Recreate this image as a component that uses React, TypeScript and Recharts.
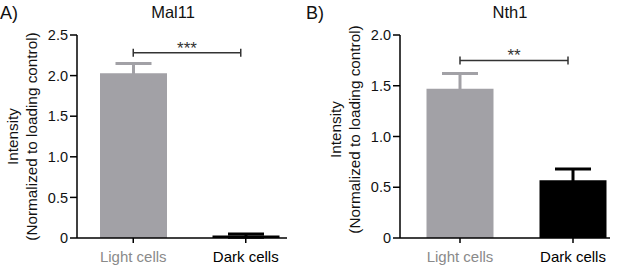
import { BarChart, Bar, XAxis, YAxis, Cell, ErrorBar, ReferenceLine } from "recharts";

const categories = ["Light cells", "Dark cells"];
const barColors = ["#a2a1a6", "#000000"];
const tickColors = ["#8a8a8a", "#000000"];

// Mal11 panel
const mal11Values = [2.03, 0.03];
const mal11Sem = [0.12, 0.02];
const mal11Ticks = [0, 0.5, 1, 1.5, 2, 2.5];
const mal11SigLevel = 2.28;

// Nth1 panel
const nth1Values = [1.47, 0.57];
const nth1Sem = [0.15, 0.11];
const nth1Ticks = [0, 0.5, 1, 1.5, 2];
const nth1SigLevel = 1.75;

const FONT = '"Liberation Sans", Arial, Helvetica, sans-serif';

function buildRows(values: number[], sem: number[]) {
  // the lower half of each error bar sits inside its own bar, same colour
  return categories.map((name, i) => ({
    name,
    value: values[i],
    errLight: i === 0 ? sem[i] : null,
    errDark: i === 1 ? sem[i] : null,
  }));
}

const CategoryTick = ({ x, y, payload }: any) => (
  <text
    x={x}
    y={y}
    dy="0.71em"
    textAnchor="middle"
    fontSize={15}
    fontFamily={FONT}
    fill={tickColors[categories.indexOf(payload.value)]}
  >
    {payload.value}
  </text>
);

const fmt = (v: number) => (v === 0 ? "0" : v.toFixed(1));

const ValueTick = ({ x, y, payload }: any) => (
  <text x={x} y={y} dy="0.36em" textAnchor="end" fontSize={14.5} fontFamily={FONT} fill="#111">
    {fmt(payload.value)}
  </text>
);

const YLabel = ({ viewBox, dy }: any) => {
  const cy = viewBox.y + viewBox.height / 2 + dy;
  return (
    <g fontSize={15.3} fill="#111" fontFamily={FONT}>
      <text x={12} y={cy} transform={`rotate(-90 12 ${cy})`} textAnchor="middle" dominantBaseline="central">
        Intensity
      </text>
      <text x={31} y={cy} transform={`rotate(-90 31 ${cy})`} textAnchor="middle" dominantBaseline="central">
        (Normalized to loading control)
      </text>
    </g>
  );
};

const SigBracket = ({ x1, y1, x2, text }: any) => {
  const right = x2 - 5;
  const mid = (x1 + right) / 2;
  return (
    <g stroke="#333" strokeWidth={1.5}>
      <line x1={x1} y1={y1} x2={right} y2={y1} />
      <line x1={x1} y1={y1 - 4} x2={x1} y2={y1 + 4} />
      <line x1={right} y1={y1 - 4} x2={right} y2={y1 + 4} />
      <text x={mid} y={y1 + 1} textAnchor="middle" fontSize={17} fontFamily={FONT} fill="#333" stroke="none">
        {text}
      </text>
    </g>
  );
};

function Panel({
  left,
  width,
  rightMargin,
  values,
  sem,
  ticks,
  sigLevel,
  sigText,
  padding,
  labelDy,
}: any) {
  const rows = buildRows(values, sem);
  return (
    <div style={{ position: "absolute", left, top: 0 }}>
      <BarChart
        width={width}
        height={267}
        data={rows}
        margin={{ top: 35, right: rightMargin, bottom: 0, left: 0 }}
      >
        <XAxis
          dataKey="name"
          height={29}
          interval={0}
          padding={padding}
          tickSize={5}
          tickMargin={8}
          tick={<CategoryTick />}
          axisLine={{ stroke: "#000", strokeWidth: 1.5 }}
          tickLine={{ stroke: "#000", strokeWidth: 1.5 }}
        />
        <YAxis
          width={77}
          domain={[0, ticks[ticks.length - 1]]}
          ticks={ticks}
          interval={0}
          tickSize={7}
          tickMargin={2}
          tick={<ValueTick />}
          axisLine={{ stroke: "#000", strokeWidth: 1.5 }}
          tickLine={{ stroke: "#000", strokeWidth: 1.5 }}
          label={{ content: (p: any) => <YLabel {...p} dy={labelDy} /> }}
        />
        <Bar dataKey="value" barSize={67} isAnimationActive={false}>
          {rows.map((_, i) => (
            <Cell key={i} fill={barColors[i]} />
          ))}
          <ErrorBar dataKey="errLight" direction="y" width={18} strokeWidth={3} stroke={barColors[0]} isAnimationActive={false} />
          <ErrorBar dataKey="errDark" direction="y" width={18} strokeWidth={3} stroke={barColors[1]} isAnimationActive={false} />
        </Bar>
        <ReferenceLine
          segment={[
            { x: categories[0], y: sigLevel },
            { x: categories[1], y: sigLevel },
          ]}
          ifOverflow="visible"
          shape={(p: any) => <SigBracket {...p} text={sigText} />}
        />
      </BarChart>
    </div>
  );
}

export default function App() {
  return (
    <div
      style={{
        position: "absolute",
        left: 0,
        top: 0,
        width: 617,
        height: 267,
        background: "#fff",
        fontFamily: FONT,
        overflow: "hidden",
      }}
    >
      <Panel
        left={0}
        width={300}
        rightMargin={13}
        values={mal11Values}
        sem={mal11Sem}
        ticks={mal11Ticks}
        sigLevel={mal11SigLevel}
        sigText="***"
        padding={{ left: 0, right: -15 }}
        labelDy={0}
      />
      <Panel
        left={323}
        width={294}
        rightMargin={7}
        values={nth1Values}
        sem={nth1Sem}
        ticks={nth1Ticks}
        sigLevel={nth1SigLevel}
        sigText="**"
        padding={{ left: 3.5, right: -19.5 }}
        labelDy={-7}
      />
      <svg
        width={617}
        height={267}
        style={{ position: "absolute", left: 0, top: 0, pointerEvents: "none" }}
        fontFamily={FONT}
        fill="#111"
      >
        <text x={0} y={19} fontSize={18}>A)</text>
        <text x={173} y={18} fontSize={16.5} textAnchor="middle">Mal11</text>
        <text x={306} y={19} fontSize={18}>B)</text>
        <text x={510} y={18} fontSize={16.5} textAnchor="middle">Nth1</text>
      </svg>
    </div>
  );
}
